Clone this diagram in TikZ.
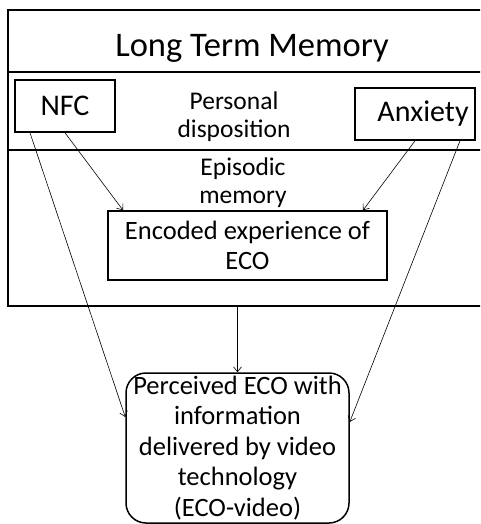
\documentclass[tikz,border=0pt]{standalone}
\usepackage{fontspec}
\setmainfont{Carlito}
\usetikzlibrary{arrows.meta}
\begin{document}
\begin{tikzpicture}[x=1pt,y=-1pt,
  frame/.style={draw, line width=1.5pt},
  box/.style={draw, line width=1.5pt, inner sep=0pt, align=center},
  arr/.style={draw, line width=0.6pt, -{Straight Barb[length=5pt,width=8pt]}},
  lbl/.style={inner sep=0pt, anchor=base, font=\fontsize{25.5}{28}\selectfont}]
\useasboundingbox (0,0) rectangle (480,524);
\clip (0,0) rectangle (480,524);

% long term memory frame with its two divisions
\draw[frame] (8,10) rectangle (495,306);
\draw[frame] (8,72) -- (495,72);
\draw[frame] (8,150) -- (495,150);
\coordinate (ltmbase) at (237.5,306);

\node[lbl, font=\fontsize{34.5}{40}\selectfont] (title) at (252,57) {Long Term Memory};
\node[lbl] (pd1) at (234,110) {Personal};
\node[lbl] (pd2) at (234,137) {disposition};
\node[lbl] (ep1) at (243,175) {Episodic};
\node[lbl] (ep2) at (243,203) {memory};

% boxes
\node[box, minimum width=100pt, minimum height=52pt, font=\fontsize{30}{36}\selectfont] (nfc) at (65,106) {NFC};
\node[box, minimum width=120pt, minimum height=52pt, font=\fontsize{30}{36}\selectfont] (anx) at (415,114) {\hspace{16pt}Anxiety};
\node[box, minimum width=279pt, minimum height=69pt, font=\fontsize{26.5}{29.5}\selectfont] (enc) at (247.5,245.5) {Encoded experience of\\ECO};
\node[box, rounded corners=20pt, minimum width=223pt, minimum height=150pt, font=\fontsize{26.5}{30.5}\selectfont] (perc) at (237.5,448)
  {Perceived ECO with\\information\\delivered by video\\technology\\(ECO-video)};

% connectors
\draw[arr] (nfc.south) -- ([xshift=-124.5pt]enc.north);
\draw[arr] (anx.south) -- ([xshift=115.5pt]enc.north);
\draw[arr] ([xshift=-35pt]nfc.south) -- ([yshift=31pt]perc.west);
\draw[arr] ([xshift=45pt]anx.south) -- ([yshift=26pt]perc.east);
\draw[arr] (ltmbase) -- (perc.north);
\end{tikzpicture}
\end{document}
